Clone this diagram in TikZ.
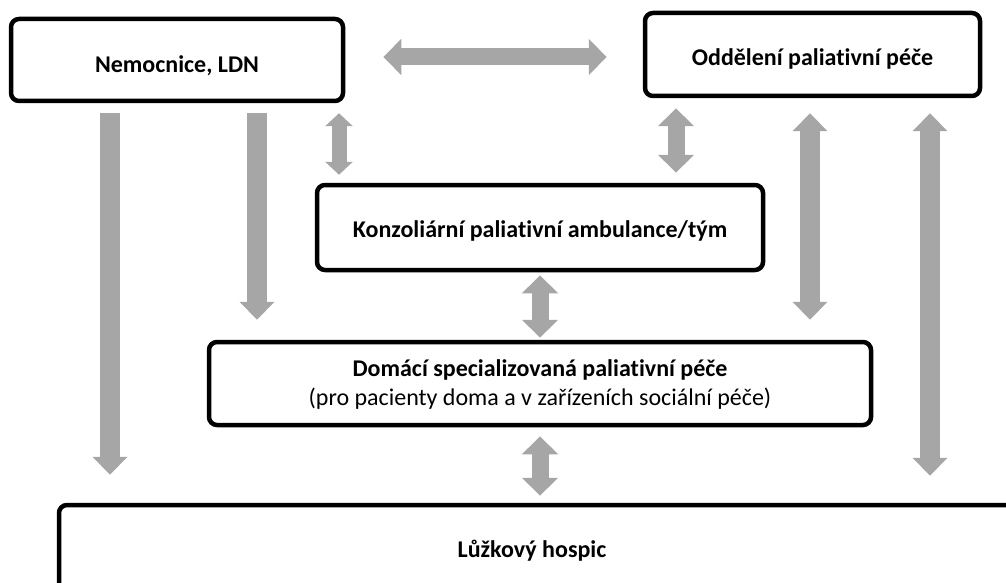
\documentclass[tikz,border=0pt]{standalone}
\usepackage{fontspec}
\setmainfont[Ligatures=NoCommon]{Carlito}
\usetikzlibrary{arrows.meta}
\definecolor{arrowgray}{HTML}{A6A6A6}
\newcommand{\bxt}[2]{\raisebox{-#1}[0pt][0pt]{#2}}
\tikzset{
  box/.style={draw=black, line width=4.5pt, rounded corners=8pt, align=center,
    font=\fontsize{24}{29}\selectfont\bfseries, inner sep=0pt},
  tipbig/.tip={Triangle[width=34pt,length=18pt]},
  tipmid/.tip={Triangle[width=35pt,length=18pt]},
  tipsmall/.tip={Triangle[width=27pt,length=13pt]},
  longarrow/.style={draw=arrowgray, line width=20pt},
  midarrow/.style={draw=arrowgray, line width=17pt},
  smallarrow/.style={draw=arrowgray, line width=15pt},
}
\begin{document}
\begin{tikzpicture}[x=1pt,y=-1pt]
\useasboundingbox (0,0) rectangle (1006,583);
\clip (0,0) rectangle (1006,583);
% boxes
\node[box, minimum width=332pt, minimum height=82pt] (nem) at (177,60) {\bxt{12.2pt}{Nemocnice, LDN}};
\node[box, minimum width=335pt, minimum height=83pt] (odd) at (812.5,54.5) {\bxt{11.3pt}{Oddělení paliativní péče}};
\node[box, minimum width=446pt, minimum height=85pt] (konz) at (540,227.5) {\bxt{10.3pt}{Konzoliární paliativní ambulance/tým}};
\node[box, minimum width=662pt, minimum height=83pt] (dom) at (540,383.5) {\bxt{21.5pt}{\begin{tabular}[b]{@{}c@{}}Domácí specializovaná paliativní péče\\
  {\mdseries (pro pacienty doma a v zařízeních sociální péče)}\end{tabular}}};
\node[box, minimum width=960pt, minimum height=92pt] (hosp) at (539,551) {\hspace*{-14pt}Lůžkový hospic};
% columns
\coordinate (c1) at (110,0);
\coordinate (c2) at (257,0);
\coordinate (c3) at (339,0);
\coordinate (c4) at (676,0);
\coordinate (c5) at (540,0);
\coordinate (c6) at (810,0);
\coordinate (c7) at (930,0);
\coordinate (r1) at (0,57);
% arrows
\draw[midarrow, arrows={tipmid-tipmid}, shorten <=38pt, shorten >=36pt] (nem.east |- r1) -- (odd.west |- r1);
\draw[longarrow, arrows={-tipbig}, shorten <=10pt, shorten >=28pt] (c1 |- nem.south) -- (c1 |- hosp.north);
\draw[longarrow, arrows={-tipbig}, shorten <=10pt, shorten >=20pt] (c2 |- nem.south) -- (c2 |- dom.north);
\draw[smallarrow, arrows={tipsmall-tipsmall}, shorten <=10pt, shorten >=8pt] (c3 |- nem.south) -- (c3 |- konz.north);
\draw[midarrow, arrows={tipmid-tipmid}, shorten <=10pt, shorten >=10pt] (c4 |- odd.south) -- (c4 |- konz.north);
\draw[midarrow, arrows={tipmid-tipmid}, shorten <=3pt, shorten >=2pt] (c5 |- konz.south) -- (c5 |- dom.north);
\draw[midarrow, arrows={tipmid-tipmid}, shorten <=9pt, shorten >=7pt] (c5 |- dom.south) -- (c5 |- hosp.north);
\draw[longarrow, arrows={tipbig-tipbig}, shorten <=15pt, shorten >=20pt] (c6 |- odd.south) -- (c6 |- dom.north);
\draw[longarrow, arrows={tipbig-tipbig}, shorten <=15pt, shorten >=27pt] (c7 |- odd.south) -- (c7 |- hosp.north);
\end{tikzpicture}
\end{document}
